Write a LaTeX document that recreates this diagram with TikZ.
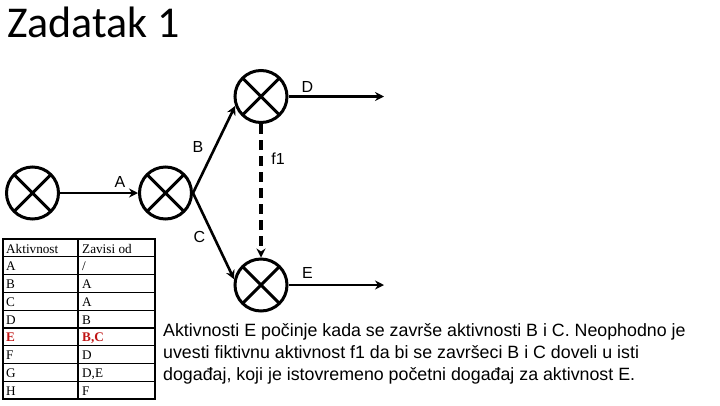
\documentclass[tikz,border=0pt]{standalone}
\usepackage{fontspec}
\setmainfont{Liberation Sans}
\newfontfamily\titlefont{Carlito}
\newfontfamily\tabfont{Liberation Serif}
\usetikzlibrary{arrows.meta}
\definecolor{myred}{RGB}{192,20,20}
\begin{document}
\begin{tikzpicture}[x=1pt,y=-1pt,
  ev/.style={circle,draw,line width=3pt,minimum size=52pt,inner sep=0pt,
    path picture={\draw[line width=3pt]
      (path picture bounding box.north west) -- (path picture bounding box.south east)
      (path picture bounding box.north east) -- (path picture bounding box.south west);}},
  arr/.style={line width=2.6pt,-{Stealth[length=9pt,width=9pt]}},
  lbl/.style={font=\fontsize{16}{16}\selectfont,inner sep=0pt},
  cell/.style={font=\tabfont\fontsize{13.2}{13.2}\selectfont,inner sep=0pt,anchor=base west},
  redcell/.style={cell,text=myred,font=\tabfont\bfseries\fontsize{13.2}{13.2}\selectfont},
  para/.style={font=\fontsize{17.8}{22}\selectfont,inner sep=0pt,anchor=base west}]
\useasboundingbox (0,0) rectangle (720,405);
\fill[white] (0,0) rectangle (720,405);

\node[anchor=base west,inner sep=0pt,font=\titlefont\fontsize{44}{44}\selectfont] (title) at (7,37.5) {Zadatak 1};

% events
\node[ev] (n1) at (32.5,193) {};
\node[ev] (n2) at (165.5,193) {};
\node[ev] (n3) at (261,96.5) {};
\node[ev] (n4) at (261,285) {};
\coordinate (dEnd) at (384,96.5);
\coordinate (eEnd) at (384,285);

% activities
\draw[arr] (n1) -- (n2);
\draw[arr] (n2.east) -- (n3.200);
\draw[arr] (n2.east) -- (n4.168);
\draw[arr] (n3) -- (dEnd);
\draw[arr] (n4) -- (eEnd);
\draw[arr,line width=4pt,dash pattern=on 10pt off 6pt] (n3) -- (n4);

\node[lbl] (la) at (120,182) {A};
\node[lbl] (lb) at (198,147) {B};
\node[lbl] (lc) at (199.5,237) {C};
\node[lbl] (ld) at (307.5,87) {D};
\node[lbl] (le) at (307.5,272.5) {E};
\node[lbl] (lf) at (278,159) {f1};

% table
\draw[line width=1.5pt] (3,239) rectangle (155,399);
\draw[line width=1.2pt] (78,239) -- (78,399);
\foreach \i in {1,...,8} {
  \draw[line width=1.2pt] (3,239+\i*17.78) -- (155,239+\i*17.78);
}
\foreach \a/\b [count=\i from 0] in {Aktivnost/Zavisi od,A/{/},B/A,C/A,D/B,E/{B,C},F/D,G/{D,E},H/F} {
  \ifnum\i=5
    \node[redcell] (ta\i) at (6,239+\i*17.78+14) {\a};
    \node[redcell] (tb\i) at (82,239+\i*17.78+14) {\b};
  \else
    \node[cell] (ta\i) at (6,239+\i*17.78+14) {\a};
    \node[cell] (tb\i) at (82,239+\i*17.78+14) {\b};
  \fi
}

% paragraph
\node[para] (p1) at (163,336) {Aktivnosti E počinje kada se završe aktivnosti B i C. Neophodno je};
\node[para] (p2) at (163,358) {uvesti fiktivnu aktivnost f1 da bi se završeci B i C doveli u isti};
\node[para] (p3) at (163,380) {događaj, koji je istovremeno početni događaj za aktivnost E.};
\end{tikzpicture}
\end{document}
